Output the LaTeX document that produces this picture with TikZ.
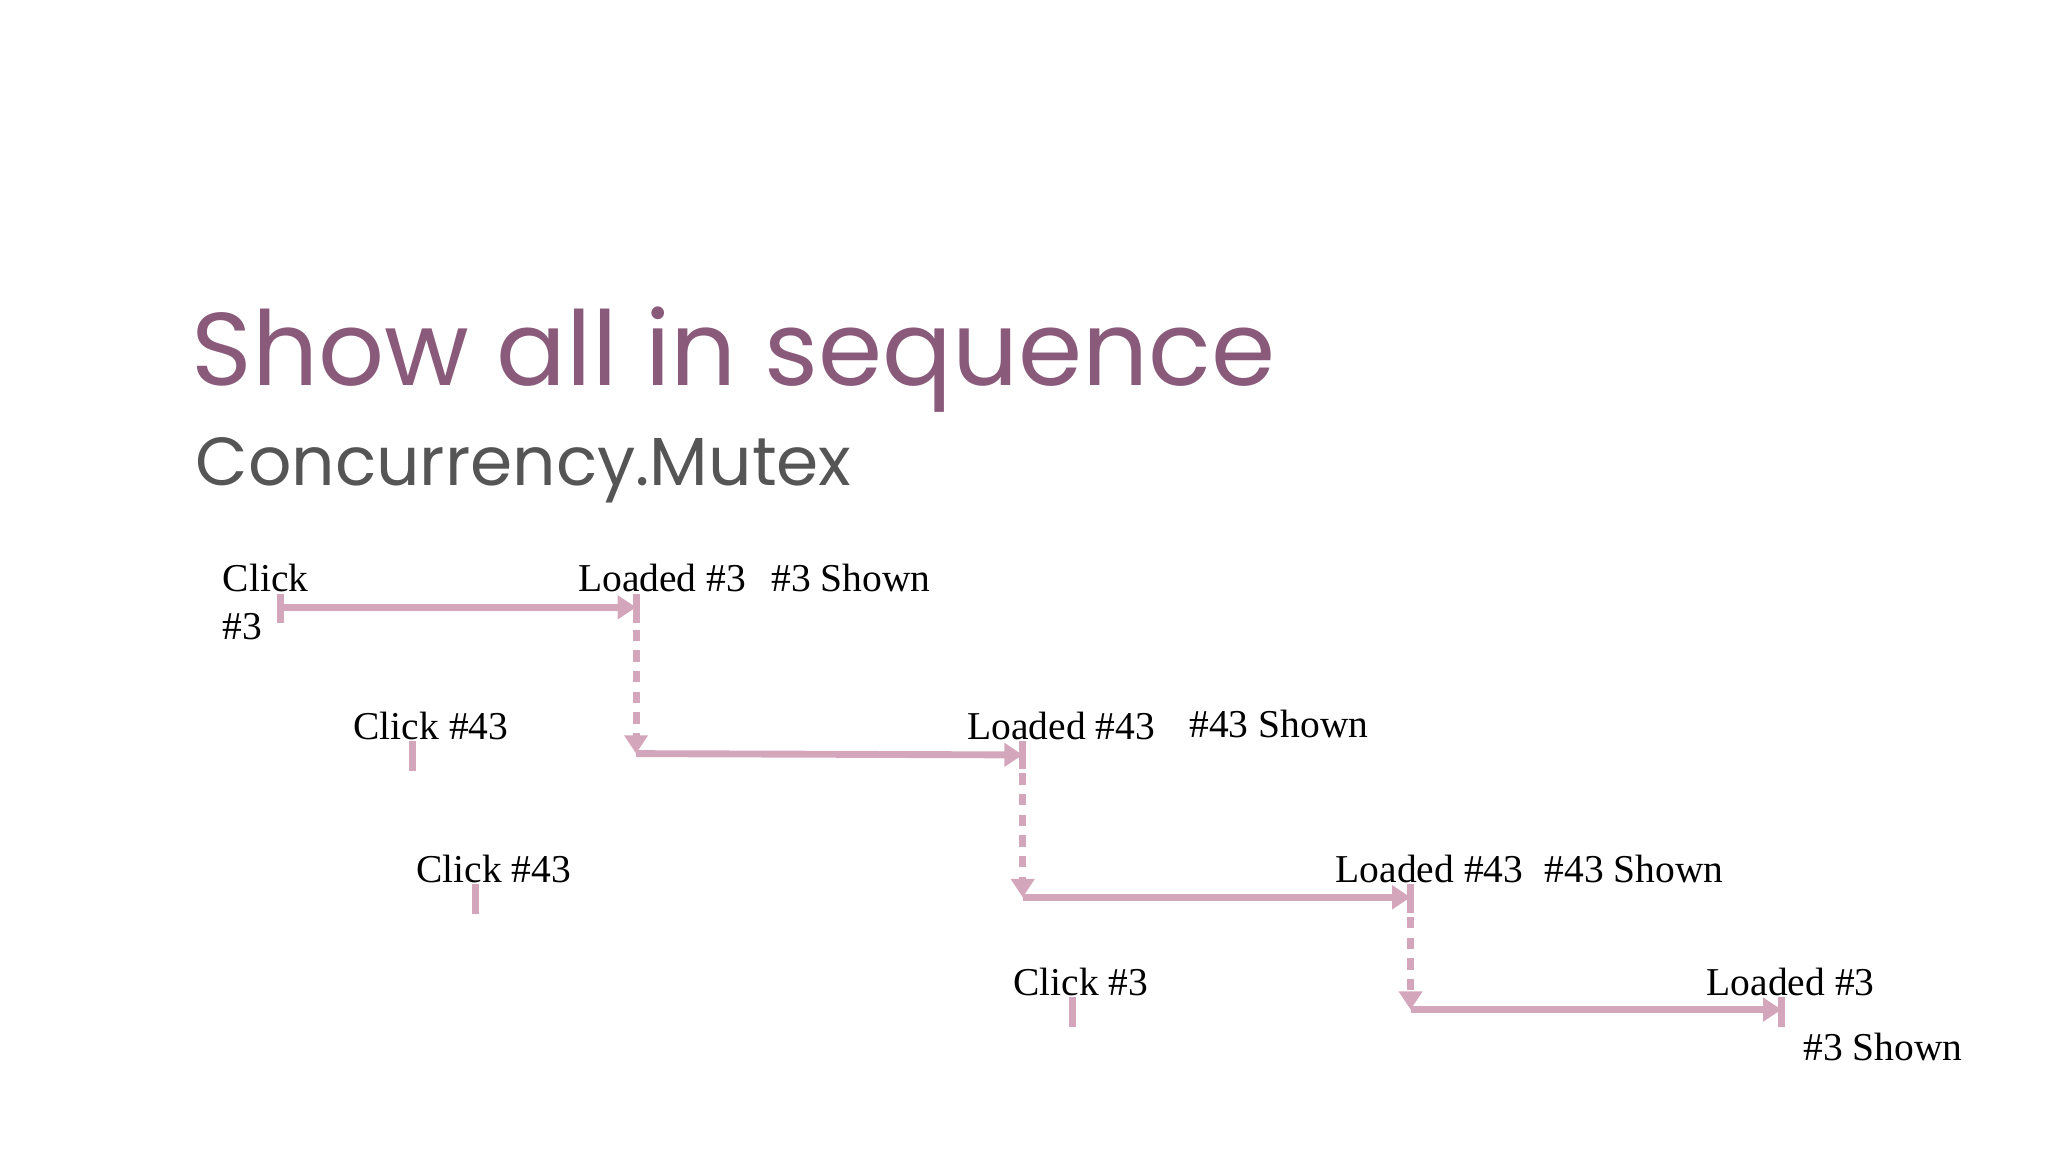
\documentclass[tikz,border=0pt]{standalone}
\usepackage{fontspec}
\setmainfont{Liberation Serif}
\newfontfamily\titlefont{Poppins}
\usetikzlibrary{arrows.meta}
\definecolor{ttl}{RGB}{138,90,122}
\definecolor{sub}{RGB}{85,85,85}
\definecolor{pk}{RGB}{212,166,188}
\tikzset{
 lbl/.style={anchor=base west,inner sep=0pt,font=\fontsize{8.6pt}{10pt}\selectfont},
 tline/.style={pk,line width=1.5pt},
 arr/.style={tline,-{Triangle[length=4pt,width=5pt]}},
 dots/.style={pk,line width=1.5pt,dash pattern=on 2.5pt off 2pt,-{Triangle[length=4pt,width=5pt]}},
}
\begin{document}
\begin{tikzpicture}[x=0.01cm,y=-0.01cm]
\useasboundingbox (0,0) rectangle (1568,882);
\node[anchor=base west,inner sep=0pt,text=ttl,font=\titlefont\fontsize{22.5pt}{26pt}\selectfont] (title) at (146,295) {Show all in sequence};
\node[anchor=base west,inner sep=0pt,text=sub,font=\titlefont\fontsize{14.8pt}{18pt}\selectfont] (subt) at (149,372) {Concurrency.Mutex};
% labels
\node[lbl] (c1) at (170,453) {Click};
\node[lbl] (c1b) at (170,490) {\#3};
\node[lbl] (l1) at (442,453) {Loaded \#3};
\node[lbl] (s1) at (590,453) {\#3 Shown};
\node[lbl] (c2) at (270,566) {Click \#43};
\node[lbl] (l2) at (740,566) {Loaded \#43};
\node[lbl] (s2) at (910,565) {\#43 Shown};
\node[lbl] (c3) at (318,676) {Click \#43};
\node[lbl] (l3) at (1022,676) {Loaded \#43};
\node[lbl] (s3) at (1182,676) {\#43 Shown};
\node[lbl] (c4) at (775,762) {Click \#3};
\node[lbl] (l4) at (1306,762) {Loaded \#3};
\node[lbl] (s4) at (1380,812) {\#3 Shown};
% coordinates
\coordinate (a0) at (215,465); \coordinate (a1) at (487,465);
\coordinate (b0) at (487,577); \coordinate (b1) at (783,578);
\coordinate (d0) at (783,687); \coordinate (d1) at (1080,687);
\coordinate (e0) at (1080,773); \coordinate (e1) at (1364,773);
% ticks
\draw[tline] (215,455) -- (215,477);
\draw[tline] (487,455) -- (487,477);
\draw[tline] (783,567) -- (783,589);
\draw[tline] (1080,677) -- (1080,699);
\draw[tline] (1364,763) -- (1364,786);
\draw[tline] (316,567) -- (316,590);
\draw[tline] (364,677) -- (364,700);
\draw[tline] (821,763) -- (821,786);
% arrows
\draw[arr] (a0) -- (a1);
\draw[arr] (b0) -- (b1);
\draw[arr] (d0) -- (d1);
\draw[arr] (e0) -- (e1);
\draw[dots] (487,482) -- (b0);
\draw[dots] (783,592) -- (d0);
\draw[dots] (1080,702) -- (e0);
\end{tikzpicture}
\end{document}
